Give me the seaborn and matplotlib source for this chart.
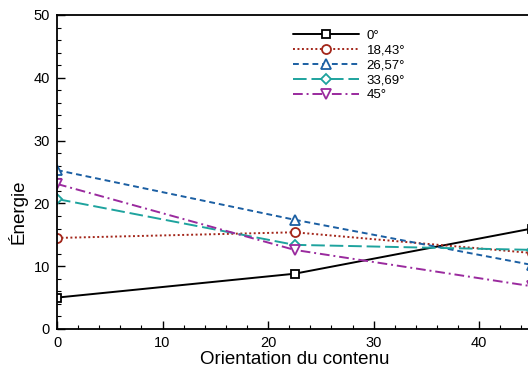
import matplotlib
matplotlib.use("Agg")
import matplotlib.pyplot as plt
import seaborn as sns
from matplotlib.ticker import MultipleLocator

# données
orientation = [0, 22.5, 45]
labels = ["0°", "18,43°", "26,57°", "33,69°", "45°"]
energie_0 = [5.0, 8.8, 16.0]
energie_18 = [14.5, 15.4, 12.1]
energie_26 = [25.3, 17.4, 10.2]
energie_33 = [20.7, 13.4, 12.6]
energie_45 = [23.1, 12.6, 6.8]

series = [energie_0, energie_18, energie_26, energie_33, energie_45]
colors = ["black", "#a3261a", "#1b5fa3", "#1ea39e", "#9a2a9e"]
markers = ["s", "o", "^", "D", "v"]
styles = ["-", (0, (1, 1.3)), (0, (3, 2)), (0, (7, 2.5)), (0, (5, 2, 1, 2))]
sizes = [6, 6.5, 7, 5.5, 7]

sns.set_style("ticks", {"axes.edgecolor": "black", "text.color": "black",
                        "xtick.color": "black", "ytick.color": "black",
                        "axes.labelcolor": "black"})
plt.rcParams["font.family"] = ["Liberation Sans", "DejaVu Sans"]

fig = plt.figure(figsize=(5.28, 3.76), dpi=100)
ax = fig.add_axes([57 / 528, 47 / 376, 475 / 528, 314 / 376])

for y, lab, c, m, ls, ms in zip(series, labels, colors, markers, styles, sizes):
    sns.lineplot(x=orientation, y=y, ax=ax, color=c, marker=m, linestyle=ls,
                 label=lab, markersize=ms, markerfacecolor="white",
                 markeredgecolor=c, markeredgewidth=1.3, linewidth=1.4)

ax.set_xlim(0, 45)
ax.set_ylim(0, 50)
ax.xaxis.set_major_locator(MultipleLocator(10))
ax.xaxis.set_minor_locator(MultipleLocator(2))
ax.yaxis.set_major_locator(MultipleLocator(10))
ax.yaxis.set_minor_locator(MultipleLocator(2))
ax.tick_params(which="major", direction="in", length=6, width=1, labelsize=10.5, pad=5)
ax.tick_params(which="minor", direction="in", length=3, width=0.8)
for s in ax.spines.values():
    s.set_linewidth(1.3)

ax.set_xlabel("Orientation du contenu", fontsize=13.5, labelpad=1)
ax.set_ylabel("Énergie", fontsize=13.5)
ax.yaxis.set_label_coords(-0.062, 0.373)

ax.legend(loc="upper left", bbox_to_anchor=(286 / 528, 1 - 23 / 376),
          bbox_transform=fig.transFigure, frameon=False, fontsize=9.5,
          handlelength=5.0, labelspacing=0.2, borderpad=0, handletextpad=0.6)

fig.savefig("out.png", dpi=100)
